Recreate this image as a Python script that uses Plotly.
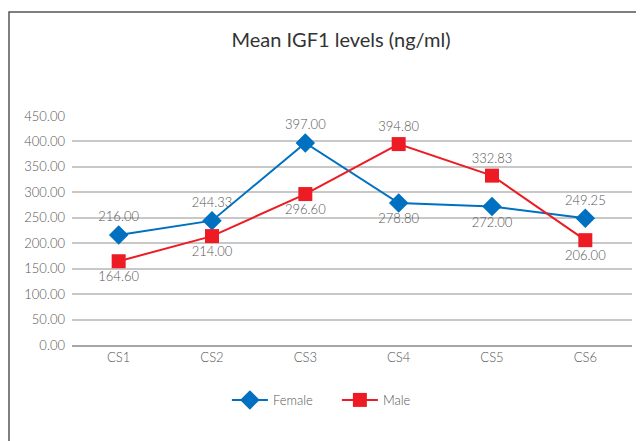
import plotly.graph_objects as go

categories = ["CS1", "CS2", "CS3", "CS4", "CS5", "CS6"]
female = [216.00, 244.33, 397.00, 278.80, 272.00, 249.25]
male = [164.60, 214.00, 296.60, 394.80, 332.83, 206.00]
female_pos = ["top center", "top center", "top center", "bottom center", "bottom center", "top center"]
male_pos = ["bottom center", "bottom center", "bottom center", "top center", "top center", "bottom center"]
y_ticks = [0, 50, 100, 150, 200, 250, 300, 350, 400, 450]

FONT = "Lato"
GRAY = "#555555"
L, T, PW, PH = 64, 108, 560, 229
B = 441 - T - PH

fig = go.Figure()
fig.add_trace(go.Scatter(
    x=categories, y=female, name="Female", mode="lines+markers+text",
    line=dict(color="#0070C0", width=2),
    marker=dict(symbol="diamond", size=15, color="#0070C0"),
    text=[f"{v:.2f}" for v in female], textposition=female_pos,
    textfont=dict(family=FONT, size=13, color=GRAY, weight=300),
))
fig.add_trace(go.Scatter(
    x=categories, y=male, name="Male", mode="lines+markers+text",
    line=dict(color="#ED1C24", width=2),
    marker=dict(symbol="square", size=14, color="#ED1C24"),
    text=[f"{v:.2f}" for v in male], textposition=male_pos,
    textfont=dict(family=FONT, size=13, color=GRAY, weight=300),
))

fig.update_layout(
    width=644, height=441,
    margin=dict(l=L, r=644 - L - PW, t=T, b=B),
    paper_bgcolor="white", plot_bgcolor="white",
    font=dict(family=FONT, color=GRAY, size=12, weight=300),
    title=dict(text="Mean IGF1 levels (ng/ml)", x=333 / 644, xanchor="center",
               y=1 - 32 / 441, yanchor="middle", xref="container", yref="container",
               font=dict(family=FONT, size=20, color="#333333", weight=400)),
    showlegend=True,
    legend=dict(orientation="h", x=0.473, xanchor="center", y=-0.24, yanchor="middle",
                font=dict(family=FONT, size=13, color=GRAY, weight=300),
                itemwidth=36, entrywidth=59, entrywidthmode="pixels"),
    xaxis=dict(range=[-0.5, 5.5], showgrid=False, showline=True, linecolor="#a6a6a6",
               linewidth=1.5, ticks="", tickfont=dict(family=FONT, size=13, color=GRAY, weight=300),
               fixedrange=True),
    yaxis=dict(range=[0, 450], tickvals=y_ticks, tickformat=".2f", showgrid=True,
               gridcolor="#c8c8c8", gridwidth=1.5, zeroline=False, showline=False,
               ticks="", ticklabelstandoff=6,
               tickfont=dict(family=FONT, size=13, color=GRAY, weight=300), fixedrange=True),
)

fig.add_shape(type="rect", xref="paper", yref="paper",
              x0=(1 - L) / PW, x1=(660 - L) / PW,
              y0=(337 - 460) / PH, y1=(337 - 4) / PH,
              line=dict(color="#555555", width=1.5), fillcolor="rgba(0,0,0,0)", layer="below")

fig.write_html("out.html")
